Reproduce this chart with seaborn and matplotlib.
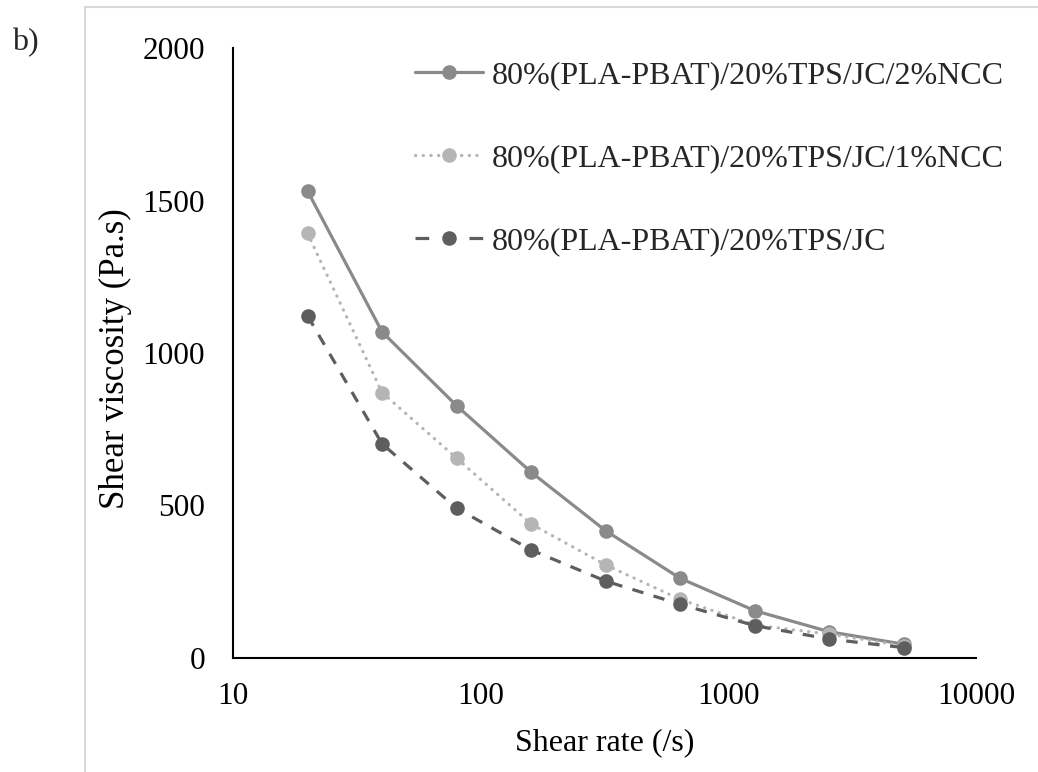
import matplotlib
matplotlib.use("Agg")
import matplotlib.pyplot as plt
from matplotlib.lines import Line2D
from matplotlib.ticker import FixedLocator, FixedFormatter, NullLocator
import seaborn as sns
import pandas as pd

# Shear rate steps (1/s)
shear_rate = [20, 40, 80, 160, 320, 640, 1280, 2560, 5120]

# Shear viscosity (Pa.s) for each blend
visc_2ncc = [1531, 1069, 827, 609, 417, 261, 155, 86, 45]
visc_1ncc = [1392, 870, 655, 439, 305, 192, 108, 78, 40]
visc_base = [1122, 702, 491, 354, 252, 176, 106, 62, 34]

labels = [
    "80%(PLA-PBAT)/20%TPS/JC/2%NCC",
    "80%(PLA-PBAT)/20%TPS/JC/1%NCC",
    "80%(PLA-PBAT)/20%TPS/JC",
]

x_ticks = [10, 100, 1000, 10000]
x_tick_labels = ["10", "100", "1000", "10000"]
y_ticks = [0, 500, 1000, 1500, 2000]

sns.set_theme(style="white")
plt.rcParams["font.family"] = ["Liberation Serif", "DejaVu Serif"]

FS = 23
fig = plt.figure(figsize=(10.38, 7.72), dpi=100)
ax = fig.add_axes([233 / 1038, 1 - 658 / 772, (976 - 233) / 1038, (658 - 48) / 772])

LW = 2.3
MS = 10.5
series = [
    (visc_2ncc, labels[0], "#8a8a8a", dict(linestyle="-"), dict(linestyle="-")),
    (visc_1ncc, labels[1], "#b5b5b5",
     dict(dashes=(0.1, 2.3), dash_capstyle="round"),
     dict(dashes=(0.1, 2.3), dash_capstyle="round")),
    (visc_base, labels[2], "#5e5e5e",
     dict(dashes=(3.6, 3.3)),
     dict(dashes=(4.3, 12.6))),
]

handles = []
for vals, lab, col, style, leg_style in series:
    df = pd.DataFrame({"rate": shear_rate, "visc": vals})
    sns.lineplot(
        data=df, x="rate", y="visc", ax=ax, color=col,
        marker="o", markersize=MS, markeredgewidth=0, linewidth=LW,
        legend=False, **style,
    )
    handles.append(Line2D([], [], color=col, marker="o", markersize=MS,
                          markeredgewidth=0, linewidth=LW, label=lab, **leg_style))

ax.set_xscale("log")
ax.set_xlim(10, 10000)
ax.set_ylim(0, 2000)
ax.xaxis.set_major_locator(FixedLocator(x_ticks))
ax.xaxis.set_major_formatter(FixedFormatter(x_tick_labels))
ax.xaxis.set_minor_locator(NullLocator())
ax.set_yticks(y_ticks)
ax.set_yticklabels([str(v) for v in y_ticks])

for side in ["top", "right"]:
    ax.spines[side].set_visible(False)
for side in ["left", "bottom"]:
    ax.spines[side].set_color("black")
    ax.spines[side].set_linewidth(1.5)

ax.tick_params(axis="both", which="major", direction="out", length=7,
               width=1.5, color="black", labelsize=22.5, labelcolor="black")
ax.tick_params(axis="y", pad=13)
ax.tick_params(axis="x", pad=10)
ax.grid(False)

ax.set_xlabel("Shear rate (/s)", fontsize=FS, color="black")
ax.set_ylabel("Shear viscosity (Pa.s)", fontsize=25, color="black")
ax.xaxis.set_label_coords(0.5, -0.115)
ax.yaxis.set_label_coords(-0.136, 0.49)

ax.legend(
    handles=handles, loc="upper left", bbox_to_anchor=(415 / 1038, 1 - 61 / 772),
    bbox_transform=fig.transFigure, frameon=False, fontsize=FS,
    handlelength=2.13, handletextpad=0.28, labelspacing=1.68,
    borderpad=0, borderaxespad=0, numpoints=1,
)

# panel tag and chart-area border
fig.text(12 / 1038, 1 - 43 / 772, "b)", fontsize=FS, va="center", ha="left")
border_col = "#d9d9d9"
fig.add_artist(Line2D([85 / 1038, 85 / 1038], [0, 1 - 7 / 772],
                      transform=fig.transFigure, color=border_col, linewidth=1.5))
fig.add_artist(Line2D([85 / 1038, 1], [1 - 7 / 772, 1 - 7 / 772],
                      transform=fig.transFigure, color=border_col, linewidth=1.5))

fig.savefig("out.png", dpi=100, facecolor="white")
